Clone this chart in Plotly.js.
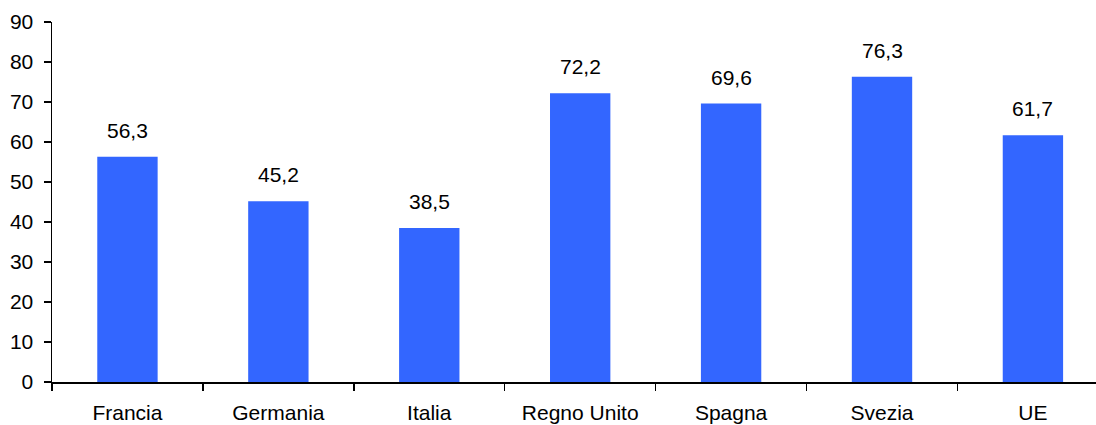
<!DOCTYPE html>
<html>
<head>
<meta charset="utf-8">
<script src="https://cdn.plot.ly/plotly-3.0.1.min.js"></script>
<style>html,body{margin:0;padding:0;background:#fff;}#chart{width:1096px;height:425px;}</style>
</head>
<body>
<div id="chart"></div>
<script>
const categories = ["Francia", "Germania", "Italia", "Regno Unito", "Spagna", "Svezia", "UE"];
const values = [56.3, 45.2, 38.5, 72.2, 69.6, 76.3, 61.7];
const valueLabels = ["56,3", "45,2", "38,5", "72,2", "69,6", "76,3", "61,7"];
const yTicks = [0, 10, 20, 30, 40, 50, 60, 70, 80, 90];

const font = "Liberation Sans, Arial, sans-serif";

const trace = {
  type: "bar",
  x: categories,
  y: values,
  width: 0.4,
  marker: {color: "#3366FF", line: {width: 0}},
  hoverinfo: "none"
};

const annotations = categories.map((c, i) => ({
  x: c, y: values[i], xref: "x", yref: "y",
  text: valueLabels[i], showarrow: false,
  yanchor: "bottom", yshift: 13,
  font: {family: font, size: 21, color: "#000"}
}));

const layout = {
  width: 1096, height: 425,
  margin: {l: 52, r: 0, t: 22, b: 43, pad: 0},
  paper_bgcolor: "#fff", plot_bgcolor: "#fff",
  showlegend: false,
  bargap: 0.6,
  xaxis: {
    type: "category",
    range: [-0.5, 6.418],
    tickson: "boundaries",
    ticks: "outside", ticklen: 7, tickwidth: 1.5, tickcolor: "#000",
    ticklabelstandoff: 11,
    showline: true, linecolor: "#000", linewidth: 1.5,
    showgrid: false, zeroline: false,
    tickfont: {family: font, size: 21, color: "#000"},
    fixedrange: true
  },
  yaxis: {
    range: [0, 90],
    tickvals: yTicks,
    ticktext: yTicks.map(String),
    ticks: "outside", ticklen: 7, tickwidth: 1.5, tickcolor: "#000",
    ticklabelstandoff: 6,
    showline: true, linecolor: "#000", linewidth: 1.5,
    showgrid: false, zeroline: false,
    tickfont: {family: font, size: 21, color: "#000"},
    fixedrange: true
  },
  annotations: annotations
};

Plotly.newPlot("chart", [trace], layout, {displayModeBar: false, staticPlot: true});
</script>
</body>
</html>
